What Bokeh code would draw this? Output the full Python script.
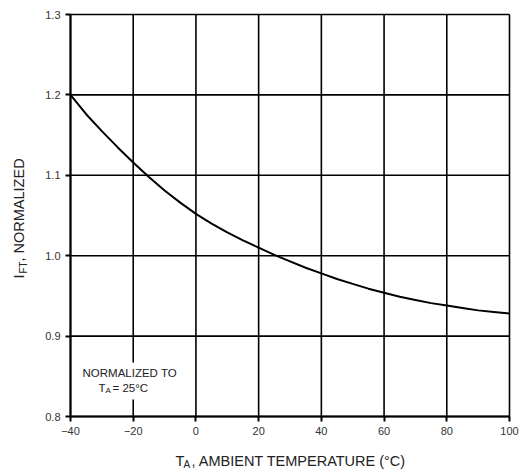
from bokeh.plotting import figure
from bokeh.models import Range1d, FixedTicker, Label, BoxAnnotation, LinearAxis
from bokeh.embed import file_html
from bokeh.resources import INLINE
import math

# Data
temp_c = [-40, -35, -30, -25, -20, -15, -10, -5, 0, 5, 10, 15, 20, 25, 30, 35, 40, 45, 50, 55, 60,
          65, 70, 75, 80, 85, 90, 95, 100]
ift_norm = [1.200, 1.176, 1.155, 1.135, 1.116, 1.098, 1.081, 1.066, 1.052, 1.040, 1.029, 1.019, 1.010, 1.001,
            0.993, 0.985, 0.978, 0.971, 0.965, 0.959, 0.954, 0.949, 0.945, 0.941, 0.938, 0.935, 0.932, 0.930, 0.928]
x_ticks = [-40, -20, 0, 20, 40, 60, 80, 100]
y_ticks = [0.8, 0.9, 1.0, 1.1, 1.2, 1.3]
y_tick_labels = ["0.8", "0.9", "1.0", "1.1", "1.2", "1.3"]
x_min, x_max = -40, 100
y_min, y_max = 0.8, 1.3

FONT = "Liberation Sans"
W, H = 519, 470
# pixel box of the data area on the canvas
PL, PR, PT, PB = 70, 509, 14, 416
sx = (PR - PL) / (x_max - x_min)
sy = (PB - PT) / (y_max - y_min)
xr = Range1d(x_min - PL / sx, x_max + (W - PR) / sx)
yr = Range1d(y_min - (H - PB) / sy, y_max + PT / sy)


def dx(px):
    return xr.start + px / sx


def dy(py):
    return yr.end - py / sy


p = figure(width=W, height=H, output_backend="svg", toolbar_location=None,
           x_range=xr, y_range=yr, x_axis_type=None, y_axis_type=None,
           min_border_left=0, min_border_right=0, min_border_top=0, min_border_bottom=0)
p.background_fill_color = "white"
p.border_fill_color = "white"
p.outline_line_color = None
p.xgrid.visible = False
p.ygrid.visible = False

xaxis = LinearAxis(fixed_location=y_min, bounds=(x_min, x_max), ticker=FixedTicker(ticks=x_ticks))
yaxis = LinearAxis(fixed_location=x_min, bounds=(y_min, y_max), ticker=FixedTicker(ticks=y_ticks))
yaxis.major_label_overrides = {t: l for t, l in zip(y_ticks, y_tick_labels)}
for ax in (xaxis, yaxis):
    ax.axis_line_color = "black"
    ax.axis_line_width = 2
    ax.major_tick_line_color = "black"
    ax.major_tick_line_width = 2
    ax.major_tick_out = 5
    ax.major_tick_in = 0
    ax.minor_tick_line_color = None
    ax.major_label_text_font = FONT
    ax.major_label_text_font_size = "11px"
    ax.major_label_text_color = "#333333"
xaxis.major_label_standoff = 5
yaxis.major_label_standoff = 5
p.add_layout(xaxis, "below")
p.add_layout(yaxis, "left")

# grid lines (at the tick values, spanning the data area only)
p.segment(x0=x_ticks, x1=x_ticks, y0=[y_min] * len(x_ticks), y1=[y_max] * len(x_ticks),
          line_color="black", line_width=1.6)
p.segment(x0=[x_min] * len(y_ticks), x1=[x_max] * len(y_ticks), y0=y_ticks, y1=y_ticks,
          line_color="black", line_width=1.6)

p.line(temp_c, ift_norm, line_color="black", line_width=2)

# white box behind note
p.add_layout(BoxAnnotation(left=dx(80), right=dx(182), bottom=dy(399), top=dy(362),
                           fill_color="white", fill_alpha=1.0, line_alpha=0))

TXT = "#222222"
note_kw = dict(text_font=FONT, text_font_size="11.5px", text_color=TXT, text_baseline="middle")
p.add_layout(Label(x=dx(82), y=dy(372), text="NORMALIZED TO", **note_kw))
p.add_layout(Label(x=dx(98), y=dy(387), text="T", **note_kw))
p.add_layout(Label(x=dx(105), y=dy(390), text="A", **{**note_kw, "text_font_size": "8px"}))
p.add_layout(Label(x=dx(112), y=dy(387), text="= 25°C", **note_kw))

# y axis label (rotated)
ylab_kw = dict(text_font=FONT, text_font_size="14.5px", text_color=TXT, angle=math.pi / 2,
               text_baseline="middle", text_align="left")
p.add_layout(Label(x=dx(18), y=dy(278), text="I", **ylab_kw))
p.add_layout(Label(x=dx(23), y=dy(273), text="FT", **{**ylab_kw, "text_font_size": "10px"}))
p.add_layout(Label(x=dx(18), y=dy(261), text=", NORMALIZED", **ylab_kw))

# x axis label
xlab_kw = dict(text_font=FONT, text_font_size="14.5px", text_color=TXT, text_baseline="middle")
p.add_layout(Label(x=dx(175), y=dy(460), text="T", **xlab_kw))
p.add_layout(Label(x=dx(183), y=dy(464), text="A", **{**xlab_kw, "text_font_size": "10px"}))
p.add_layout(Label(x=dx(191), y=dy(460), text=", AMBIENT TEMPERATURE (°C)", **xlab_kw))

open("out.html", "w").write(file_html(p, INLINE))
